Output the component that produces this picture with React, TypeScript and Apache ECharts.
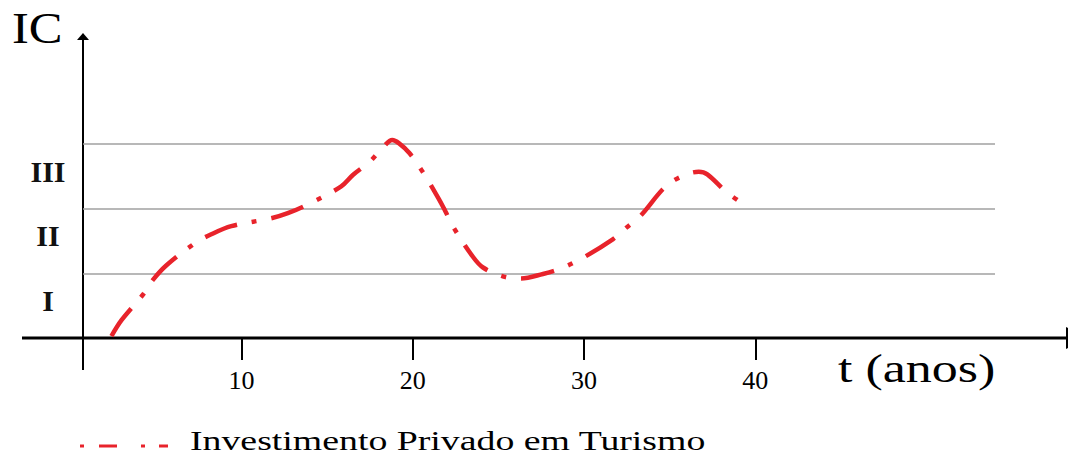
import React, { useEffect, useRef } from "react";
import * as echarts from "echarts";

// ---- data ----
const years = [
  2.4, 3.0, 4.3, 4.8, 5.6, 7.3, 8.2, 9.4, 11.7, 12.7, 13.9, 15.8, 16.5, 17.5,
  18.3, 18.8, 19.2, 19.8, 20.5, 21.5, 21.9, 22.4, 23.5, 24.1, 25.3, 26.3, 27.6,
  28.6, 29.8, 31.7, 32.4, 33.3, 34.6, 35.4, 36.7, 37.2, 38.3, 39.2,
];
const icValues = [
  0.03, 0.28, 0.69, 0.89, 1.12, 1.47, 1.6, 1.73, 1.85, 1.93, 2.07, 2.34, 2.52,
  2.73, 2.96, 3.06, 3.01, 2.86, 2.6, 2.16, 1.96, 1.7, 1.26, 1.09, 0.95, 0.92,
  0.99, 1.07, 1.22, 1.53, 1.69, 1.89, 2.3, 2.46, 2.57, 2.53, 2.26, 2.09,
];
const tickYears = [10, 20, 30, 40];
const bandLevels = [1, 2, 3];
const bandCenters = [0.5, 1.5, 2.5];
const bandLabels = ["I", "II", "III"];
const seriesName = "Investimento Privado em Turismo";
const xTitle = "t (anos)";
const yTitle = "IC";

const FONT = "'Liberation Serif', 'Times New Roman', serif";
const RED = "#e8232b";

export default function App() {
  const ref = useRef<HTMLDivElement>(null);

  useEffect(() => {
    if (!ref.current) return;
    const chart = echarts.init(ref.current, undefined, { renderer: "svg" });
    const option: any = {
      animation: false,
      backgroundColor: "#ffffff",
      grid: { left: 83, right: 73, top: 35, bottom: 118, containLabel: false },
      xAxis: {
        type: "value",
        min: 0.74,
        max: 54,
        axisLine: { show: false },
        splitLine: { show: false },
        axisTick: {
          show: true,
          customValues: tickYears,
          length: 22,
          lineStyle: { color: "#000", width: 2 },
        },
        axisLabel: {
          customValues: tickYears,
          fontSize: 26,
          fontFamily: FONT,
          color: "#000",
          margin: 29,
        },
      },
      yAxis: {
        type: "value",
        min: 0,
        max: 4.685,
        axisLine: { show: false },
        axisTick: { show: false },
        splitLine: { show: false },
        axisLabel: {
          customValues: bandCenters,
          formatter: (v: number) => {
            const i = bandCenters.findIndex((c) => Math.abs(c - v) < 1e-6);
            return i >= 0 ? bandLabels[i] : "";
          },
          fontSize: 30,
          fontWeight: "bold",
          fontFamily: FONT,
          color: "#111",
          align: "center",
          verticalAlign: "bottom",
          lineHeight: 10,
          margin: 35,
        },
      },
      series: [
        {
          name: seriesName,
          type: "line",
          data: years.map((x, i) => [x, icValues[i]]),
          smooth: 0.35,
          showSymbol: false,
          symbol: "none",
          z: 5,
          lineStyle: {
            color: RED,
            width: 4.5,
            type: [34, 15, 5, 15],
            cap: "butt",
          },
          markLine: {
            silent: true,
            symbol: "none",
            label: { show: false },
            lineStyle: { color: "#a0a0a0", width: 1.5, type: "solid" },
            data: bandLevels.map((v) => ({ yAxis: v })),
            z: 1,
          },
        },
      ],
      graphic: [
        // y axis with arrow
        {
          type: "line",
          shape: { x1: 83, y1: 38, x2: 83, y2: 370 },
          style: { stroke: "#000", lineWidth: 2 },
        },
        {
          type: "polygon",
          shape: { points: [[83, 33], [77, 40], [89, 40]] },
          style: { fill: "#000" },
        },
        // x axis with arrow
        {
          type: "line",
          shape: { x1: 22, y1: 338, x2: 1066, y2: 338 },
          style: { stroke: "#000", lineWidth: 3 },
        },
        {
          type: "polygon",
          shape: { points: [[1066, 327], [1066, 349], [1086, 338]] },
          style: { fill: "#000" },
        },
        // axis titles
        {
          type: "text",
          x: 12,
          y: 28,
          scaleX: 1.15,
          style: {
            text: yTitle,
            font: `44px ${FONT}`,
            fill: "#000",
            textAlign: "left",
            textVerticalAlign: "middle",
          },
        },
        {
          type: "text",
          x: 838,
          y: 369,
          scaleX: 1.3,
          style: {
            text: xTitle,
            font: `40px ${FONT}`,
            fill: "#000",
            textAlign: "left",
            textVerticalAlign: "middle",
          },
        },
        // legend
        {
          type: "group",
          children: [
            { type: "line", shape: { x1: 80, y1: 446, x2: 84, y2: 446 }, style: { stroke: RED, lineWidth: 3 } },
            { type: "line", shape: { x1: 99, y1: 446, x2: 117, y2: 446 }, style: { stroke: RED, lineWidth: 3 } },
            { type: "line", shape: { x1: 141, y1: 446, x2: 145, y2: 446 }, style: { stroke: RED, lineWidth: 3 } },
            { type: "line", shape: { x1: 159, y1: 446, x2: 168, y2: 446 }, style: { stroke: RED, lineWidth: 3 } },
            {
              type: "text",
              x: 190,
              y: 440,
              scaleX: 1.35,
              style: {
                text: seriesName,
                font: `28px ${FONT}`,
                fill: "#000",
                textAlign: "left",
                textVerticalAlign: "middle",
              },
            },
          ],
        },
      ],
    };
    chart.setOption(option);
    return () => chart.dispose();
  }, []);

  return (
    <div
      ref={ref}
      style={{ position: "fixed", left: 0, top: 0, width: 1068, height: 456 }}
    />
  );
}
